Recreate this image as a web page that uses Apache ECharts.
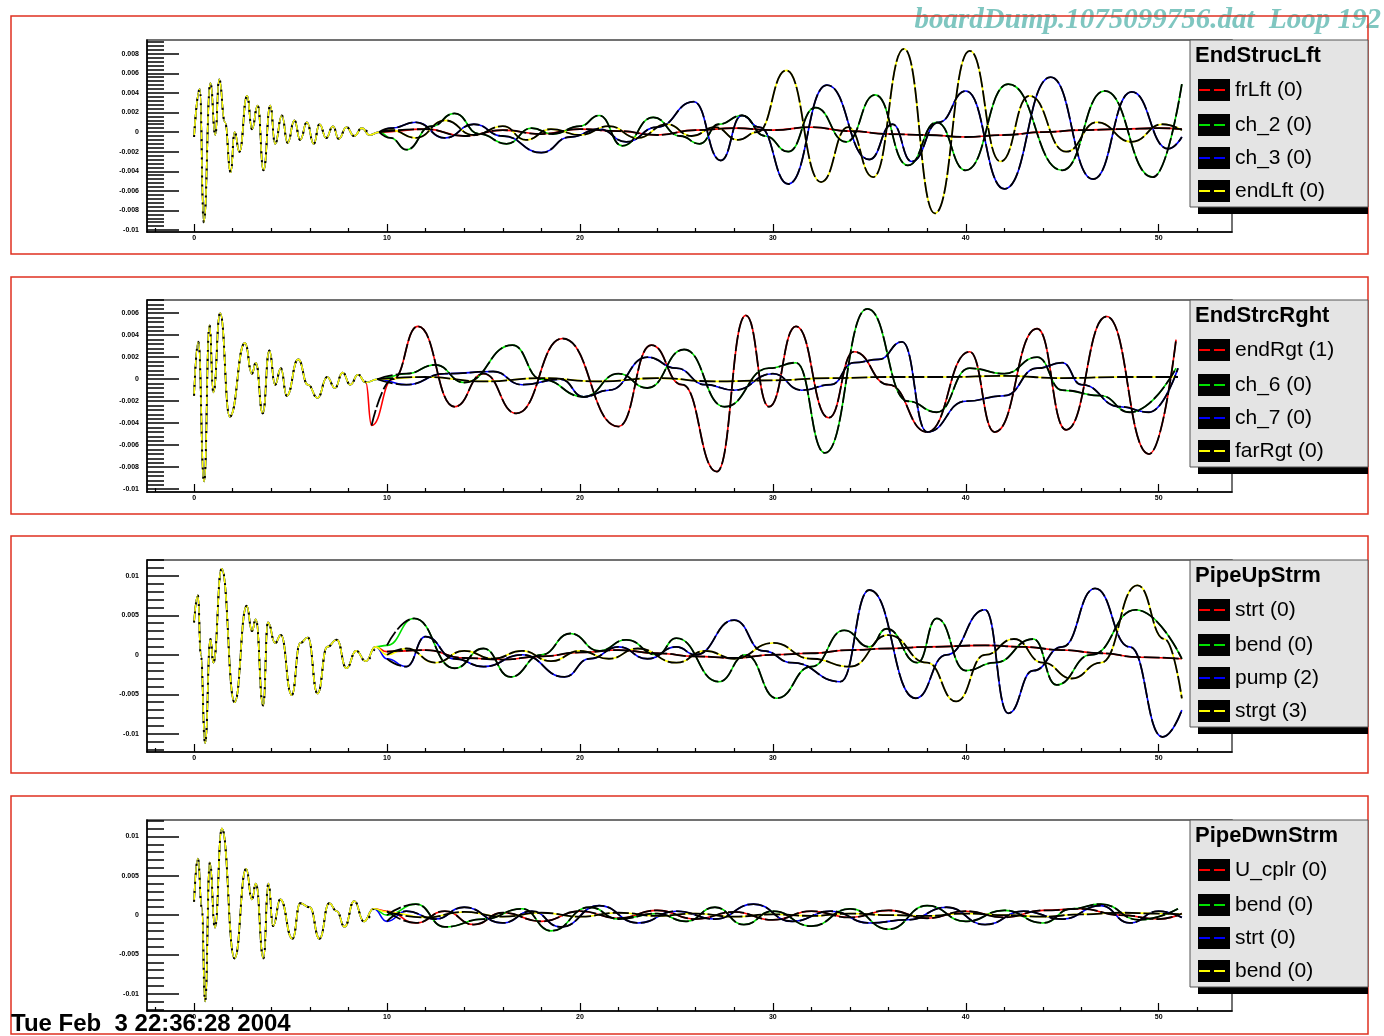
<!DOCTYPE html>
<html><head><meta charset="utf-8">
<script src="https://cdn.jsdelivr.net/npm/echarts@6/dist/echarts.min.js"></script>
<style>html,body{margin:0;padding:0;background:#fff}#c{width:1384px;height:1036px}</style>
</head><body><div id="c"></div>
<script>
// ---- values: [time, amplitude in units of 1e-4] ----
const early1=[[0,-5],[0.3,44],[0.5,-92],[0.85,50],[1.1,-3],[1.3,54],[1.6,10],[1.9,-41],[2.1,0],[2.35,-20],[2.75,37],[3.0,3],[3.3,27],[3.6,-39],[3.95,27],[4.2,-12],[4.55,17],[4.85,-11],[5.2,12],[5.5,-8],[5.85,10],[6.2,-12],[6.5,8],[6.85,-6],[7.2,6],[7.5,-7],[7.9,5],[8.3,-4],[8.7,4],[9.1,-3]];
const frLft=[[9.6,0],[12,3],[14,-4],[16,2],[18,-2],[20,3],[22,1],[24,-3],[26,2],[28,4],[30,2],[32,5],[34,1],[36,-2],[38,-3],[40,-5],[42,-3],[44,0],[46,2],[48,3],[50,4],[51.2,3]];
const ch_2=[[9.6,0],[10.2,-6],[11,-18],[12.3,6],[13.5,19],[14.8,-2],[16.2,-12],[17.5,4],[18.6,-2],[20,6],[21,17],[22.2,-14],[23.8,15],[25.2,-4],[26.2,-12],[27.2,8],[28.4,17],[29.6,-4],[30.8,-20],[32.2,25],[33.8,-10],[35.3,38],[37.0,-34],[38.5,10],[40.0,-39],[42.2,49],[45.0,-39],[47.2,42],[49.7,-46],[51.2,49]];
const ch_3=[[9.6,0],[10.2,4],[11.5,10],[13,-6],[14.5,8],[16,-4],[18,-21],[19.5,-5],[21,3],[22.4,-10],[24,5],[25.9,31],[27.3,-29],[28.4,17],[29.3,5],[30.8,-53],[32.8,48],[35,-28],[36.2,8],[37.2,-30],[38.6,10],[40.0,42],[42.0,-58],[44.4,56],[46.6,-48],[48.6,41],[50.5,-17],[51.2,-5]];
const endLft=[[9.6,0],[10.2,2],[11.5,-6],[13,12],[14.5,-3],[16,6],[17.2,-8],[18.5,3],[20,-3],[21.5,6],[23,-6],[24.5,8],[25.8,-4],[27,5],[28.2,-8],[29.2,0],[30.7,63],[32.5,-51],[33.9,5],[35.2,-46],[36.8,85],[38.4,-83],[40.2,83],[41.8,-30],[43.3,37],[45.2,-20],[46.8,10],[48.6,-10],[50.2,8],[51.2,2]];

const early2=[[0,-15],[0.22,34],[0.52,-93],[0.8,49],[1.0,-12],[1.35,60],[1.85,-34],[2.64,33],[3.0,5],[3.2,15],[3.56,-31],[3.9,26],[4.2,-5],[4.5,10],[4.8,-15],[5.4,18],[5.9,-5],[6.4,-17],[6.9,2],[7.3,-8],[7.7,6],[8.1,-5],[8.5,4],[8.9,-3]];
const endRgt=[[9.2,-42],[10.3,0],[11.6,48],[13.5,-25],[15.0,5],[16.7,-31],[19.1,37],[22.0,-43],[23.7,31],[25.3,-5],[27.1,-84],[28.6,58],[29.8,-25],[31.2,48],[32.9,-35],[34.2,25],[36.0,-5],[38.0,-48],[40.2,25],[41.5,-48],[43.7,46],[45.2,-46],[47.3,57],[49.5,-68],[50.9,36]];
const ch_6=[[9.5,0],[11,5],[12.5,13],[14,-3],[16.5,31],[18,0],[20.2,-16],[22.0,5],[23.5,-8],[25.4,27],[27.5,-25],[29.8,10],[31.2,15],[32.7,-67],[34.9,64],[37.0,-20],[38.5,-30],[40.2,10],[42.0,5],[43.7,20],[45,-10],[47,-15],[48.5,-30],[50.9,10]];
const ch_7=[[9.5,0],[11,-5],[13,5],[15.5,7],[17,-5],[19,0],[20.2,-16],[21.5,-10],[23.5,20],[25,10],[26.5,-5],[28,-10],[30,5],[31.5,-10],[33,-5],[34.2,15],[35.5,18],[36.7,34],[38.0,-48],[40,-20],[42,-15],[43.7,10],[45,15],[46,-5],[48,-25],[49.5,-30],[51,10]];
const farRgt=[[9.5,0],[12,2],[15,-2],[18,1],[21,-2],[24,1],[27,-2],[30,-1],[33,1],[36,2],[39,2],[42,3],[45,1],[48,2],[51,2]];

const early3=[[0,41],[0.2,75],[0.35,0],[0.57,-112],[0.85,20],[1.0,-10],[1.43,109],[2.1,-60],[2.73,62],[3.0,30],[3.2,45],[3.58,-64],[3.83,41],[4.2,15],[4.5,25],[5.06,-51],[5.5,15],[5.9,22],[6.4,-49],[6.9,10],[7.4,19],[7.9,-17],[8.4,5],[8.9,-8],[9.4,10]];
const strt=[[10,4],[12,6],[14,-4],[16,-6],[18,-2],[20,3],[22,6],[24,2],[26,-2],[28,-4],[30,0],[32,2],[34,6],[36,8],[38,10],[41,12],[43,10],[45,6],[47,2],[49,-3],[51.2,-5]];
const bendU=[[10,12],[11.4,46],[13.5,-17],[15,8],[16.4,-28],[18,0],[19.5,27],[21,5],[22.4,19],[24,0],[25,21],[27.2,-34],[28.6,0],[30.2,-55],[32,-15],[33.7,31],[35.0,10],[35.9,33],[37.5,-10],[38.5,46],[40,-20],[41.5,-10],[43.5,20],[44.7,-38],[46.5,0],[48.8,57],[51.2,-5]];
const pump=[[10,-5],[11,-15],[12,23],[13.5,-5],[15,-15],[17,0],[19.2,-28],[20.5,-5],[22,10],[23.5,-5],[25,10],[26,0],[28.0,44],[29.5,5],[31,-10],[33.5,-34],[35.0,82],[37.4,-55],[39.0,0],[41.0,57],[42.2,-74],[43.5,-20],[45.0,10],[46.7,84],[48.5,10],[50.2,-104],[51.2,-70]];
const strgt=[[10,0],[11,8],[12.5,-10],[14,5],[15.5,-5],[17,5],[18.5,-8],[20,5],[21.5,-5],[23,8],[25,-10],[26.5,5],[28,-5],[30,15],[32,-5],[34,-15],[36,25],[38,-10],[39.5,-59],[41,0],[42.5,20],[44,-10],[45.5,-30],[47,-10],[48.9,88],[50.3,20],[51.2,-55]];

const early4=[[0,17],[0.2,72],[0.4,10],[0.57,-110],[0.82,67],[1.08,-16],[1.44,110],[2.1,-55],[2.7,59],[3.0,20],[3.2,40],[3.6,-55],[3.85,40],[4.1,-14],[4.47,20],[5.1,-30],[5.5,15],[6.0,10],[6.5,-30],[7.0,15],[7.4,5],[7.8,-15],[8.3,18],[8.8,-8],[9.3,8]];
const U_cplr=[[10,5],[11.5,-10],[13,5],[14.5,-12],[16,3],[18,-8],[20,5],[22,-4],[24,6],[26,-5],[28,4],[30,-6],[32,5],[34,-3],[36,6],[38,-4],[40,5],[42,-3],[44,6],[46,8],[48,0],[50,-5],[51.2,2]];
const bendD1=[[10,0],[11.5,14],[13,-15],[15,-5],[17,8],[18.5,-20],[20.5,10],[22,-5],[24,2],[25.5,-8],[27,10],[28.5,-12],[30,5],[32,-14],[34,8],[36,-18],[38,12],[40,-8],[42,6],[44,-10],[45.5,8],[47,14],[49,-6],[51,8]];
const strtD=[[10,-8],[11,5],[12.5,-5],[14,10],[16,-10],[17.5,5],[19,-15],[21,12],[23,-10],[25,5],[27,-5],[29,14],[31,-8],[33,5],[35,-10],[37,-6],[39,10],[41,-12],[43,5],[45,-5],[47,12],[48.5,-10],[50,5],[51.2,-3]];
const bendD2=[[10,4],[12,-3],[14,4],[16,-2],[18,3],[20,-2],[22,3],[24,-1],[26,2],[28,-2],[30,1],[32,-1],[34,2],[36,0],[38,-1],[40,2],[42,0],[44,-2],[46,1],[48,3],[50,2],[51.2,1]];

// ---- names / ticks ----
const panelTitles=['EndStrucLft','EndStrcRght','PipeUpStrm','PipeDwnStrm'];
const legend1=['frLft (0)','ch_2 (0)','ch_3 (0)','endLft (0)'];
const legend2=['endRgt (1)','ch_6 (0)','ch_7 (0)','farRgt (0)'];
const legend3=['strt (0)','bend (0)','pump (2)','strgt (3)'];
const legend4=['U_cplr (0)','bend (0)','strt (0)','bend (0)'];
const xMajor=[0,10,20,30,40,50];
const yMajor1=[-0.01,-0.008,-0.006,-0.004,-0.002,0,0.002,0.004,0.006,0.008];
const yMajor2=[-0.01,-0.008,-0.006,-0.004,-0.002,0,0.002,0.004,0.006];
const yMajor3=[-0.01,-0.005,0,0.005,0.01];
const yMajor4=[-0.01,-0.005,0,0.005,0.01];
const titleText='boardDump.1075099756.dat  Loop 192';
const dateText='Tue Feb  3 22:36:28 2004';

const SCALE=1e-4;
const COLORS=['#ff0000','#00e000','#0000ff','#ffff00'];
const panels=[
  {early:early1,late:[frLft,ch_2,ch_3,endLft],names:legend1,yMajor:yMajor1,min:-0.0102,max:0.0094,minorStep:0.0004,top:40,h:192},
  {early:early2,late:[endRgt,ch_6,ch_7,farRgt],names:legend2,yMajor:yMajor2,min:-0.01025,max:0.0072,minorStep:0.0004,top:300,h:192},
  {early:early3,late:[strt,bendU,pump,strgt],names:legend3,yMajor:yMajor3,min:-0.0123,max:0.0120,minorStep:0.001,top:560,h:192},
  {early:early4,late:[U_cplr,bendD1,strtD,bendD2],names:legend4,yMajor:yMajor4,min:-0.0122,max:0.0121,minorStep:0.001,top:820,h:191}
];
const XMIN=-2.44, XMAX=53.8;
const xMinor=[];for(let k=-1;k<=26;k++){if(k%5!==0)xMinor.push(k*2);}
function minors(min,max,step){const a=[];for(let k=Math.ceil(min/step);k<=Math.floor(max/step);k++){if(k%5!==0)a.push(+(k*step).toFixed(6));}return a;}
const fmt=v=>v===0?'0':String(+v.toFixed(4));
const toPts=a=>a.map(p=>[p[0],p[1]*SCALE]);

const grid=[],xAxis=[],yAxis=[],series=[],graphic=[];
const borderTops=[[16,238],[277,237],[536,237],[796,238]];
panels.forEach((P,pi)=>{
  grid.push({left:147,top:P.top,width:1085,height:P.h,show:true,borderColor:'#444',borderWidth:1.5,backgroundColor:'#fff'});
  const axLine={show:true,onZero:false,lineStyle:{color:'#000',width:1.5}};
  xAxis.push({type:'value',gridIndex:pi,position:'bottom',min:XMIN,max:XMAX,axisLine:axLine,splitLine:{show:false},
    axisTick:{show:true,inside:true,length:8,customValues:xMajor,lineStyle:{color:'#000',width:1.2}},
    axisLabel:{show:true,customValues:xMajor,fontSize:7,fontWeight:'bold',color:'#000',margin:3,fontFamily:'Liberation Sans'}});
  xAxis.push({type:'value',gridIndex:pi,position:'bottom',min:XMIN,max:XMAX,axisLine:{show:false,onZero:false},splitLine:{show:false},
    axisTick:{show:true,inside:true,length:4,customValues:xMinor,lineStyle:{color:'#000',width:1.2}},axisLabel:{show:false}});
  yAxis.push({type:'value',gridIndex:pi,position:'left',min:P.min,max:P.max,axisLine:axLine,splitLine:{show:false},
    axisTick:{show:true,inside:true,length:32,customValues:P.yMajor,lineStyle:{color:'#000',width:1.5}},
    axisLabel:{show:true,customValues:P.yMajor,formatter:fmt,fontSize:7,fontWeight:'bold',color:'#000',margin:8,fontFamily:'Liberation Sans'}});
  yAxis.push({type:'value',gridIndex:pi,position:'left',offset:0,min:P.min,max:P.max,axisLine:{show:false,onZero:false},splitLine:{show:false},
    axisTick:{show:true,inside:true,length:17,customValues:minors(P.min,P.max,P.minorStep),lineStyle:{color:'#000',width:1.5}},axisLabel:{show:false}});
  P.late.forEach((L,si)=>{
    series.push({type:'line',name:P.names[si],xAxisIndex:2*pi,yAxisIndex:2*pi,data:toPts(P.early.concat(L)),
      smooth:0.5,smoothMonotone:'x',symbol:'none',animation:false,lineStyle:{color:COLORS[si],width:1.6},z:2});
  });
  P.late.forEach((L,si)=>{
    series.push({type:'line',name:P.names[si]+' ',xAxisIndex:2*pi,yAxisIndex:2*pi,data:toPts(L),
      smooth:0.5,smoothMonotone:'x',symbol:'none',animation:false,lineStyle:{color:'#000',width:1.8,type:[16,3]},z:3});
  });
  series.push({type:'line',name:'early'+pi,xAxisIndex:2*pi,yAxisIndex:2*pi,data:toPts(P.early),
    smooth:0.5,smoothMonotone:'x',symbol:'none',animation:false,lineStyle:{color:'#000',width:2,type:[2,7]},z:3});
  // red pad border
  const bt=borderTops[pi];
  graphic.push({type:'rect',shape:{x:11,y:bt[0],width:1357,height:bt[1]},style:{fill:'none',stroke:'#e03020',lineWidth:1.5},z:50});
  // legend box
  const T=P.top;
  graphic.push({type:'rect',shape:{x:1198,y:T+7,width:170,height:167},style:{fill:'#000'},z:60});
  graphic.push({type:'rect',shape:{x:1190,y:T,width:178,height:167},style:{fill:'#e4e4e4',stroke:'#555',lineWidth:1},z:61});
  graphic.push({type:'text',x:1195,y:T+16,style:{text:panelTitles[pi],font:'bold 22px "Liberation Sans"',fill:'#000',textVerticalAlign:'middle',verticalAlign:'middle'},z:62});
  const rows=[50,85,118,151];
  P.names.forEach((n,si)=>{
    const cy=T+rows[si];
    graphic.push({type:'rect',shape:{x:1198,y:cy-11,width:32,height:22},style:{fill:'#000'},z:62});
    graphic.push({type:'line',shape:{x1:1199,y1:cy,x2:1229,y2:cy},style:{stroke:COLORS[si],lineWidth:2,lineDash:[11,4]},z:63});
    graphic.push({type:'text',x:1235,y:cy,style:{text:n,font:'21px "Liberation Sans"',fill:'#000',textVerticalAlign:'middle',verticalAlign:'middle'},z:63});
  });
});
graphic.push({type:'text',right:3,top:6,style:{text:titleText,font:'italic bold 29px "Liberation Serif"',fill:'#7fc6c0'},z:40});
graphic.push({type:'text',left:11,top:1012,style:{text:dateText,font:'bold 24px "Liberation Sans"',fill:'#000'},z:70});

const chart=echarts.init(document.getElementById('c'),null,{renderer:'canvas'});
chart.setOption({animation:false,backgroundColor:'#fff',grid,xAxis,yAxis,series,graphic});
</script></body></html>
